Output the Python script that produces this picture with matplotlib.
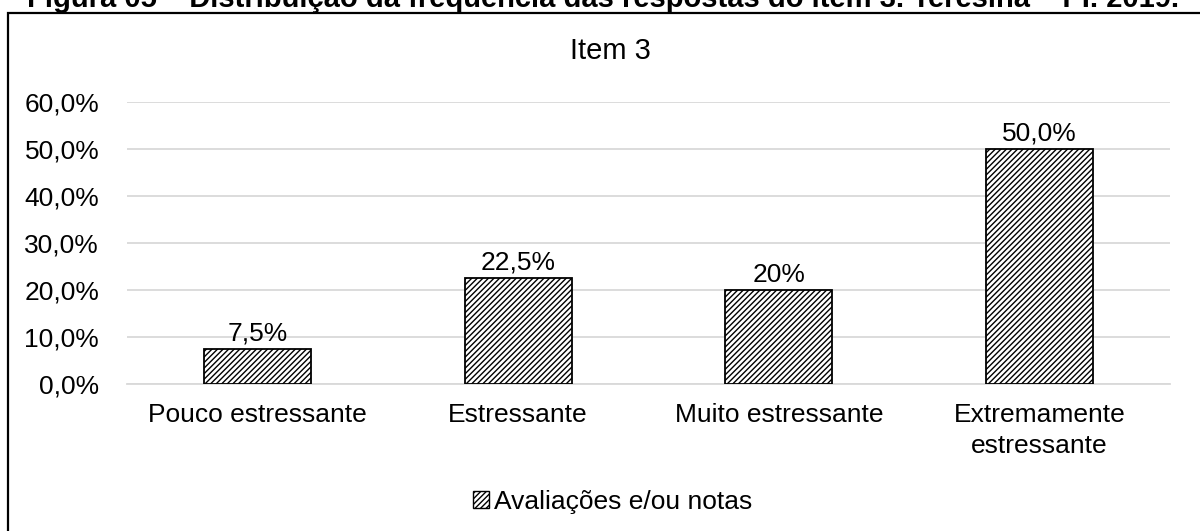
import matplotlib
matplotlib.use("Agg")
import matplotlib.pyplot as plt
from matplotlib.patches import Rectangle, Patch
from matplotlib.ticker import FuncFormatter

plt.rcParams['font.family'] = ['Liberation Sans', 'DejaVu Sans']
plt.rcParams['hatch.linewidth'] = 1.0

categories = ["Pouco estressante", "Estressante", "Muito estressante", "Extremamente\nestressante"]
values = [0.075, 0.225, 0.20, 0.50]
value_labels = ["7,5%", "22,5%", "20%", "50,0%"]
yticks = [0.0, 0.1, 0.2, 0.3, 0.4, 0.5, 0.6]
series_name = "Avaliações e/ou notas"
chart_title = "Item 3"
figure_caption = "Figura 05 – Distribuição da frequência das respostas do item 3. Teresina – PI. 2019."

W, H = 1200, 531
FS = 19
fig = plt.figure(figsize=(W / 100, H / 100), dpi=100)

# clipped caption at top
fig.text(27 / W, 1 - 7 / H, figure_caption, ha='left', va='baseline',
         fontsize=21, fontweight='bold', color='black')

# chart border
fig.patches.append(Rectangle((7.5 / W, -0.2), 1.2, 1 - 12.5 / H + 0.2,
                             transform=fig.transFigure, fill=False,
                             edgecolor='black', linewidth=1.6))

ax = fig.add_axes([127 / W, 1 - 384 / H, (1170 - 127) / W, (384 - 102) / H])
x = range(len(categories))
ax.bar(x, values, width=0.41, color='white', edgecolor='black',
       linewidth=1.3, hatch='//////', zorder=3)
ax.set_ylim(0, 0.6)
ax.set_xlim(-0.5, len(categories) - 0.5)
ax.set_yticks(yticks)
ax.yaxis.set_major_formatter(FuncFormatter(lambda v, p: f"{v*100:.1f}%".replace('.', ',')))
ax.set_xticks(list(x))
ax.set_xticklabels(categories, linespacing=1.35)
ax.tick_params(axis='both', length=0, labelsize=FS)
ax.tick_params(axis='y', pad=20)
ax.tick_params(axis='x', pad=14)
ax.grid(axis='y', color='#d9d9d9', linewidth=1.3, zorder=0)
for s in ['top', 'right', 'left']:
    ax.spines[s].set_visible(False)
ax.spines['bottom'].set_color('#d9d9d9')
ax.spines['bottom'].set_linewidth(1.3)

for i, (v, lab) in enumerate(zip(values, value_labels)):
    ax.annotate(lab, (i, v), xytext=(0, 6), textcoords='offset points',
                ha='center', va='baseline', fontsize=FS)

fig.text(610 / W, 1 - 51 / H, chart_title, ha='center', va='center', fontsize=21)

handle = Patch(facecolor='white', edgecolor='black', hatch='//////', linewidth=1.0)
fig.legend([handle], [series_name], loc='center', bbox_to_anchor=(613 / W, 1 - 502 / H),
           frameon=False, fontsize=FS, handlelength=0.6, handleheight=0.6,
           handletextpad=0.2, borderpad=0, borderaxespad=0)

fig.savefig("out.png", dpi=100)
